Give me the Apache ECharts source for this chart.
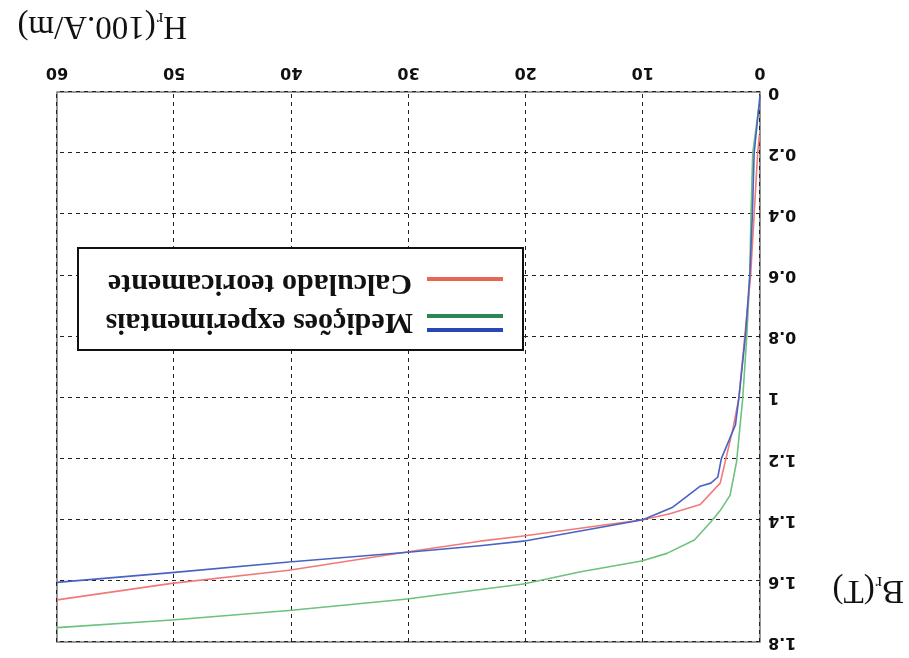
<!DOCTYPE html>
<html>
<head>
<meta charset="utf-8">
<script src="https://cdn.jsdelivr.net/npm/echarts@6/dist/echarts.min.js"></script>
<style>
html,body{margin:0;padding:0;background:#fff;}
#wrap{width:909px;height:658px;transform:rotate(180deg);transform-origin:50% 50%;}
#chart{width:909px;height:658px;}
</style>
</head>
<body>
<div id="wrap"><div id="chart"></div></div>
<script>
// H (100 A/m) and B (T) pairs
const calcH = [0.05, 0.2, 0.5, 0.8, 1.3, 1.8, 2.3, 3.4, 5.1, 7.7, 10, 20.2, 23.9, 30.3, 40.2, 50.2, 60];
const calcB = [0.14, 0.2, 0.4, 0.6, 0.8, 1.0, 1.1, 1.28, 1.35, 1.38, 1.40, 1.453, 1.47, 1.506, 1.565, 1.608, 1.662];

const measBlueH = [0, 0.5, 0.65, 0.87, 1.25, 1.8, 2.1, 3.3, 3.6, 4.2, 5.1, 7.5, 10, 20.2, 23.9, 30.3, 40.2, 50.2, 60];
const measBlueB = [0.01, 0.2, 0.4, 0.6, 0.8, 1.0, 1.09, 1.2, 1.26, 1.28, 1.29, 1.36, 1.40, 1.47, 1.485, 1.507, 1.538, 1.573, 1.605];

const measGreenH = [0.1, 0.62, 0.77, 0.87, 1.13, 1.47, 2.0, 2.56, 3.4, 4.26, 5.6, 7.95, 10.1, 15.3, 20.2, 22.2, 30.3, 40.2, 50.2, 60];
const measGreenB = [0.05, 0.2, 0.4, 0.6, 0.8, 1.0, 1.21, 1.32, 1.37, 1.41, 1.466, 1.51, 1.535, 1.57, 1.61, 1.62, 1.66, 1.697, 1.728, 1.753];

const xTicks = [0, 10, 20, 30, 40, 50, 60];
const yTicks = [0, 0.2, 0.4, 0.6, 0.8, 1, 1.2, 1.4, 1.6, 1.8];

const legendCalc = 'Calculado teoricamente';
const legendMeas = 'Medições experimentais';

function pairs(h, b) { return h.map((v, i) => [v, b[i]]); }

const chart = echarts.init(document.getElementById('chart'), null, {renderer: 'canvas'});
const labelFont = {fontFamily: 'DejaVu Sans', fontWeight: 'bold', fontSize: 16, color: '#111'};
const grid = {left: 149, right: 57, top: 16, bottom: 92, show: true, borderColor: '#777', borderWidth: 1.5, containLabel: false};
const split = {show: true, lineStyle: {color: '#222', width: 1, type: [4, 4]}};

const axisTitleRich = {
  a: {fontFamily: 'Liberation Serif', fontSize: 33, color: '#111'},
  s: {fontFamily: 'Liberation Serif', fontSize: 19, color: '#111', padding: [16, 1, 0, 0]}
};

chart.setOption({
  animation: false,
  backgroundColor: '#fff',
  grid: grid,
  xAxis: {
    type: 'value', min: 0, max: 60, interval: 10,
    axisLine: {show: false}, axisTick: {show: false},
    axisLabel: Object.assign({margin: 12, formatter: v => xTicks.includes(v) ? String(v) : ''}, labelFont),
    splitLine: split
  },
  yAxis: {
    type: 'value', min: 0, max: 1.8, interval: 0.2,
    axisLine: {show: false}, axisTick: {show: false},
    axisLabel: Object.assign({margin: 8, formatter: v => {
      const t = yTicks.find(k => Math.abs(k - v) < 1e-6);
      return t === undefined ? '' : String(t);
    }}, labelFont),
    splitLine: split
  },
  series: [
    {name: legendMeas, type: 'line', data: pairs(measGreenH, measGreenB), showSymbol: false,
     lineStyle: {color: '#6cc27e', width: 1.6}, itemStyle: {color: '#6cc27e'}},
    {name: legendCalc, type: 'line', data: pairs(calcH, calcB), showSymbol: false,
     lineStyle: {color: '#f07a78', width: 1.6}, itemStyle: {color: '#f07a78'}},
    {name: legendMeas + ' ', type: 'line', data: pairs(measBlueH, measBlueB), showSymbol: false,
     lineStyle: {color: '#4a62c4', width: 1.6}, itemStyle: {color: '#4a62c4'}}
  ],
  graphic: [
    {type: 'rect', shape: {x: 386, y: 308, width: 445, height: 102},
     style: {fill: '#fff', stroke: '#111', lineWidth: 2}, z: 100},
    {type: 'line', shape: {x1: 406, y1: 328, x2: 482, y2: 328}, style: {stroke: '#2a46b4', lineWidth: 4}, z: 101},
    {type: 'line', shape: {x1: 406, y1: 342, x2: 482, y2: 342}, style: {stroke: '#2f8552', lineWidth: 4}, z: 101},
    {type: 'line', shape: {x1: 406, y1: 379, x2: 482, y2: 379}, style: {stroke: '#e8664f', lineWidth: 4}, z: 101},
    {type: 'text', x: 496, y: 336, z: 101,
     style: {text: legendMeas, font: 'bold 30px "Liberation Serif"', fill: '#111', verticalAlign: 'middle', align: 'left'}},
    {type: 'text', x: 497, y: 375, z: 101,
     style: {text: legendCalc, font: 'bold 30px "Liberation Serif"', fill: '#111', verticalAlign: 'middle', align: 'left'}},
    {type: 'text', x: 722, y: 632, z: 101,
     style: {text: '{a|H}{s|r}{a|(100.A/m)}', verticalAlign: 'middle', align: 'left', fill: '#111', rich: axisTitleRich}},
    {type: 'text', x: 5, y: 68, z: 101,
     style: {text: '{a|B}{s|r}{a|(T)}', verticalAlign: 'middle', align: 'left', fill: '#111', rich: axisTitleRich}}
  ]
});
</script>
</body>
</html>
